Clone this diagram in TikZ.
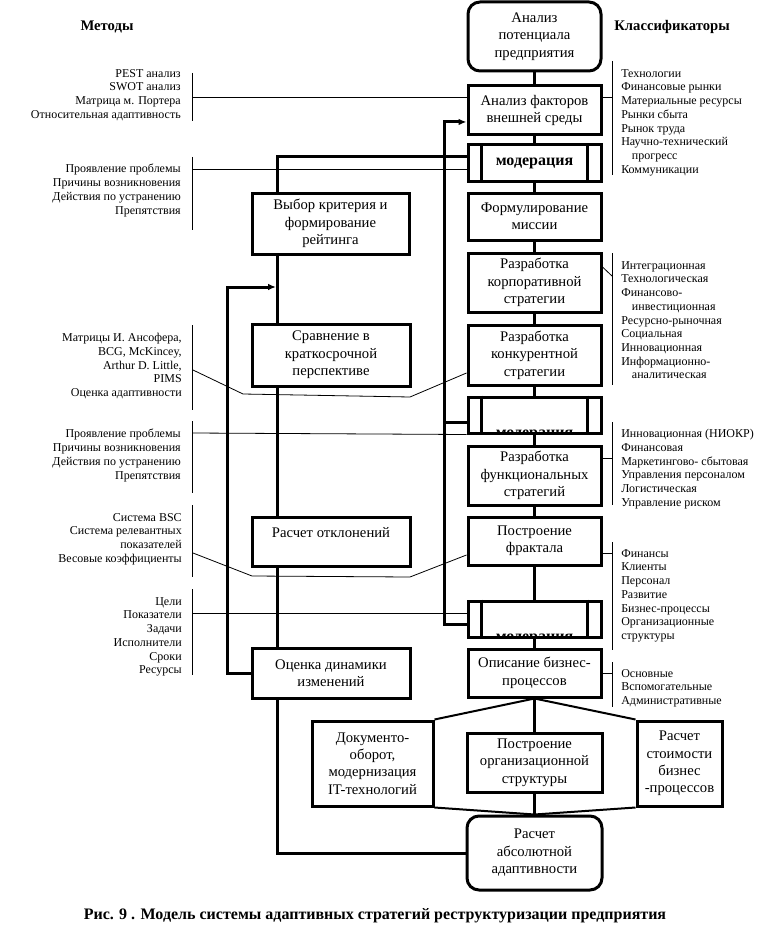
\documentclass[tikz,border=0pt]{standalone}
\usepackage{fontspec}
\setmainfont{Liberation Serif}
\usetikzlibrary{arrows.meta,calc}
\newcommand\bx[7]{\node[#1, minimum width={(#5-#3)*0.75pt}, minimum height={(#6-#4)*0.75pt}] (#2) at ({(#3+#5)/2},{(#4+#6)/2}) {#7};}
\tikzset{
 bx/.style={draw, line width=2.25pt, inner sep=0pt, align=center, font=\fontsize{11}{13.1}\selectfont},
 rbx/.style={bx, rounded corners=9pt},
 thk/.style={line width=2.25pt},
 mid/.style={line width=1.5pt},
 thn/.style={line width=0.6pt},
 lst/.style={inner sep=0pt, font=\fontsize{9}{10.3}\selectfont},
 hdr/.style={inner sep=0pt, font=\fontsize{11}{13}\selectfont\bfseries},
 arr/.style={thk, -{Latex[length=6pt,width=5pt]}},
 modtxt/.style={inner sep=0pt, font=\fontsize{12}{13}\selectfont\bfseries},
}
\begin{document}
\begin{tikzpicture}[x=0.75pt,y=-0.75pt]
\useasboundingbox[fill=white] (0,0) rectangle (781,938);
% headers
\node[hdr] (hm) at (107,27) {Методы};
\node[hdr] (hk) at (672,27) {Классификаторы};
% right column
\bx{rbx}{pot}{468}{2}{601}{71}{Анализ\\потенциала\\предприятия}
\bx{bx}{fact}{468}{86}{601}{135}{Анализ факторов\\внешней среды}
\bx{bx}{mod1}{468}{145}{601}{181}{}
\node[modtxt] (m1t) at (mod1) {модерация};
\bx{bx}{miss}{468}{193}{601}{240}{Формулирование\\миссии}
\bx{bx}{korp}{468}{253}{601}{312}{Разработка\\корпоративной\\стратегии}
\bx{bx}{konk}{468}{325}{601}{385}{Разработка\\конкурентной\\стратегии}
\bx{bx}{mod2}{468}{397}{601}{433}{}
\bx{bx}{func}{468}{446}{601}{505}{Разработка\\функциональных\\стратегий}
\bx{bx}{frak}{468}{517}{601}{565}{Построение\\фрактала}
\bx{bx}{mod3}{468}{601}{601}{637}{}
\bx{bx}{opis}{468}{649}{601}{697}{Описание бизнес-\\процессов}
\bx{bx}{org}{467}{733}{602}{792}{Построение\\организационной\\структуры}
\bx{bx}{dok}{312}{721}{433}{806}{Документо-\\оборот,\\модернизация\\IT-технологий}
\bx{bx}{stoim}{637}{721}{722}{806}{Расчет\\стоимости\\бизнес\\-процессов}
\bx{rbx}{abs}{467}{816}{602}{890}{Расчет\\абсолютной\\адаптивности}
% clipped moderation texts
\begin{scope}
\clip (mod2.south west) rectangle (mod2.north east);
\node[modtxt, anchor=base] (m2t) at (534.5,437) {модерация};
\end{scope}
\begin{scope}
\clip (mod3.south west) rectangle (mod3.north east);
\node[modtxt, anchor=base] (m3t) at (534.5,641) {модерация};
\end{scope}
% inner bars of moderation boxes
\foreach \m in {mod1,mod2,mod3}{
 \draw[thk] ($(\m.north west)+(15,0)$) -- ($(\m.south west)+(15,0)$);
 \draw[thk] ($(\m.north east)+(-15,0)$) -- ($(\m.south east)+(-15,0)$);
}
% left column
\bx{bx}{vyb}{252}{193}{409}{254}{Выбор критерия и\\формирование\\рейтинга}
\bx{bx}{srav}{252}{324}{410}{386}{Сравнение в\\краткосрочной\\перспективе}
\bx{bx}{rasch}{252}{517}{410}{566}{Расчет отклонений\\\mbox{}}
\bx{bx}{ocen}{252}{648}{410}{698}{Оценка динамики\\изменений}
% right column connectors
\draw[thk] (pot.south) -- (fact.north);
\draw[thk] (fact.south) -- (mod1.north);
\draw[thk] (mod1.south) -- (miss.north);
\draw[thk] (miss.south) -- (korp.north);
\draw[thk] (korp.south) -- (konk.north);
\draw[thk] (konk.south) -- (mod2.north);
\draw[thk] (mod2.south) -- (func.north);
\draw[thk] (func.south) -- (frak.north);
\draw[thk] (frak.south) -- (mod3.north);
\draw[thk] (mod3.south) -- (opis.north);
\draw[thk] (opis.south) -- (org.north);
\draw[thk] (org.south) -- (abs.north);
\draw[mid] (opis.south) -- (dok.north east);
\draw[mid] (opis.south) -- (stoim.north west);
\draw[mid] (dok.south east) -- (abs.north);
\draw[mid] (stoim.south west) -- (abs.north);
% left column connectors
\coordinate (L) at (277,0);
\coordinate (FL) at (227,0);
\coordinate (FR) at (444,0);
\draw[thk] ([yshift=4.5pt]mod1.west) -| (vyb.north -| L);
\draw[thk] (vyb.south -| L) -- (srav.north -| L);
\draw[thk] (srav.south -| L) -- (rasch.north -| L);
\draw[thk] (rasch.south -| L) -- (ocen.north -| L);
\draw[thk] (abs.west) -| (ocen.south -| L);
\coordinate (a1) at (276,287);
\draw[arr] (ocen.west) -- (ocen.west -| FL) |- (a1);
\draw[arr] ([yshift=-3.75pt]mod3.west) -- ([yshift=-3.75pt]mod3.west -| FR) |- ([yshift=-8.6pt]fact.west);
\draw[thk] ([yshift=-5.25pt]mod2.west) -- ([yshift=-5.25pt]mod2.west -| FR);
% method lists
\node[lst, align=right, anchor=north east] (l1) at (181,69) {PEST анализ\\SWOT анализ\\Матрица м. Портера\\Относительная адаптивность};
\node[lst, align=right, anchor=north east] (l2) at (181,164) {Проявление проблемы\\Причины возникновения\\Действия по устранению\\Препятствия};
\node[lst, align=right, anchor=north east] (l3) at (182,333) {Матрицы И. Ансофера,\\BCG, McKincey,\hspace*{4pt}\\Arthur D. Little,\hspace*{3pt}\\PIMS\\Оценка адаптивности};
\node[lst, align=right, anchor=north east] (l4) at (181,429) {Проявление проблемы\\Причины возникновения\\Действия по устранению\\Препятствия};
\node[lst, align=right, anchor=north east] (l5) at (182,513) {Система BSC\\Система релевантных\\показателей\\Весовые коэффициенты};
\node[lst, align=right, anchor=north east] (l6) at (182,597) {Цели\\Показатели\\Задачи\\Исполнители\\Сроки\\Ресурсы};
% method brackets and lines
\draw[thn] (192,73) -- (192,121);
\coordinate (m1) at (192,97);
\draw[thn] (m1) -- (fact.west |- m1);
\draw[thn] (192,157) -- (192,230);
\coordinate (m2) at (192,169);
\draw[thn] (m2) -- (mod1.west |- m2);
\draw[thn] (192,325) -- (192,410);
\coordinate (m3) at (193,370);
\draw[thn] (m3) -- (243,394) -- (410,397) -- (konk.west |- 0,373);
\draw[thn] (192,421) -- (192,493);
\coordinate (m4) at (192,433);
\draw[thn] (m4) -- (mod2.south west);
\draw[thn] (192,505) -- (192,577);
\coordinate (m5) at (193,553);
\draw[thn] (m5) -- (252,576) -- (410,577) -- (frak.west |- 0,555);
\draw[thn] (192,589) -- (192,675);
\coordinate (m6) at (192,613);
\draw[thn] (m6) -- (mod3.west |- m6);
% classifier lists
\node[lst, align=left, anchor=north west] (r1) at (621,69) {Технологии\\Финансовые рынки\\Материальные ресурсы\\Рынки сбыта\\Рынок труда\\Научно-технический\\\hspace*{8pt}прогресс\\Коммуникации};
\node[lst, align=left, anchor=north west] (r2) at (621,261) {Интеграционная\\Технологическая\\Финансово-\\\hspace*{8pt}инвестиционная\\Ресурсно-рыночная\\Социальная\\Инновационная\\Информационно-\\\hspace*{8pt}аналитическая};
\node[lst, align=left, anchor=north west] (r3) at (621,429) {Инновационная (НИОКР)\\Финансовая\\Маркетингово- сбытовая\\Управления персоналом\\Логистическая\\Управление риском};
\node[lst, align=left, anchor=north west] (r4) at (621,549) {Финансы\\Клиенты\\Персонал\\Развитие\\Бизнес-процессы\\Организационные\\структуры};
\node[lst, align=left, anchor=north west] (r5) at (621,669) {Основные\\Вспомогательные\\Административные};
% classifier brackets and lines
\draw[thn] (612,61) -- (612,175);
\draw[thn] (fact.east |- 0,97) -- (612,97);
\draw[thn] (612,253) -- (612,385);
\draw[thn] (korp.east |- 0,267) -- (612,276);
\draw[thn] (612,422) -- (612,505);
\draw[thn] (func.east |- 0,458) -- (612,458);
\draw[thn] (612,542) -- (612,650);
\draw[thn] (frak.east |- 0,553) -- (612,553);
\draw[thn] (612,662) -- (612,707);
\draw[thn] (opis.east |- 0,673) -- (612,673);
% caption
\node[inner sep=0pt, font=\fontsize{12}{13}\selectfont\bfseries] (cap) at (375,916) {Рис. 9 . Модель системы адаптивных стратегий реструктуризации предприятия};
\end{tikzpicture}
\end{document}
